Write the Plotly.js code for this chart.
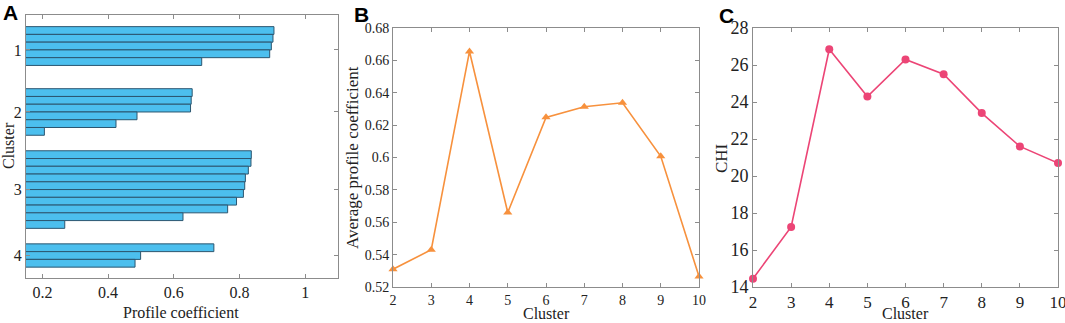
<!DOCTYPE html>
<html>
<head>
<meta charset="utf-8">
<script src="https://cdn.plot.ly/plotly-3.0.1.min.js"></script>
<style>
  html, body { margin: 0; padding: 0; background: #fff; }
  #chart { width: 1065px; height: 323px; }
</style>
</head>
<body>
<div id="chart"></div>
<script>
// panel A: profile (silhouette) coefficient of each sample, grouped by cluster
var cluster1 = [0.905, 0.902, 0.897, 0.892, 0.685, 0.10];
var cluster2 = [0.656, 0.653, 0.651, 0.488, 0.424, 0.206];
var cluster3 = [0.836, 0.835, 0.827, 0.818, 0.816, 0.812, 0.791, 0.764, 0.628, 0.268];
var cluster4 = [0.722, 0.499, 0.482];
var clusterNames = ['1', '2', '3', '4'];

// panels B and C: score per number of clusters
var clusterCounts = [2, 3, 4, 5, 6, 7, 8, 9, 10];
var avgProfile = [0.531, 0.543, 0.6655, 0.566, 0.6248, 0.6314, 0.6338, 0.6007, 0.5265];
var chi = [14.45, 17.25, 26.85, 24.3, 26.3, 25.5, 23.4, 21.6, 20.7];

var serif = 'Liberation Serif';
var axisGray = '#8c8c8c';

// stack the bars of panel A with a two-slot gap between clusters
var groups = [cluster1, cluster2, cluster3, cluster4];
var barX = [], barY = [], tickPos = [];
var pos = 2;
groups.forEach(function (g) {
  var first = pos;
  g.forEach(function (v) {
    barX.push(v);
    barY.push(pos);
    pos++;
  });
  tickPos.push((first + pos - 1) / 2);
  pos += 2;
});

var bars = {
  type: 'bar',
  orientation: 'h',
  x: barX,
  y: barY,
  width: 1,
  marker: { color: '#4cbfee', line: { color: '#2b5670', width: 1 } },
  xaxis: 'x',
  yaxis: 'y'
};

var lineB = {
  type: 'scatter',
  mode: 'lines+markers',
  x: clusterCounts,
  y: avgProfile,
  line: { color: '#f7913d', width: 1.6 },
  marker: { symbol: 'triangle-up', size: 8, color: '#f7913d' },
  xaxis: 'x2',
  yaxis: 'y2',
  cliponaxis: false
};

var lineC = {
  type: 'scatter',
  mode: 'lines+markers',
  x: clusterCounts,
  y: chi,
  line: { color: '#ec4576', width: 1.6 },
  marker: { symbol: 'circle', size: 8, color: '#ec4576' },
  xaxis: 'x3',
  yaxis: 'y3',
  cliponaxis: false
};

function f(size) {
  return { family: serif, size: size, color: '#222' };
}

function ax(extra) {
  var base = {
    showgrid: false,
    zeroline: false,
    showline: true,
    linecolor: axisGray,
    linewidth: 1,
    mirror: 'ticks',
    ticks: 'inside',
    ticklen: 4,
    tickcolor: axisGray,
    ticklabeloverflow: 'allow',
    tickfont: f(14)
  };
  for (var k in extra) base[k] = extra[k];
  return base;
}

var W = 1065, H = 323;

// axis titles placed by pixel centre, since Plotly keeps titles inside the margins
function axisTitle(text, px, py, size, vertical) {
  return {
    text: text, x: px / W, y: 1 - py / H, xref: 'paper', yref: 'paper',
    xanchor: 'center', yanchor: 'middle', showarrow: false,
    textangle: vertical ? -90 : 0, font: f(size)
  };
}

function panelLetter(text, px, py) {
  return {
    text: '<b>' + text + '</b>', x: px / W, y: 1 - py / H, xref: 'paper', yref: 'paper',
    xanchor: 'left', yanchor: 'top', showarrow: false,
    font: { family: 'Liberation Sans', size: 21, color: '#000' }
  };
}

var layout = {
  width: W,
  height: H,
  margin: { l: 0, r: 0, t: 0, b: 0 },
  paper_bgcolor: '#fff',
  plot_bgcolor: '#fff',
  font: f(14),
  showlegend: false,
  bargap: 0,
  xaxis: ax({
    domain: [26 / W, 338 / W],
    range: [0.15, 1.1],
    tickvals: [0.2, 0.4, 0.6, 0.8, 1],
    ticktext: ['0.2', '0.4', '0.6', '0.8', '1'],
    tickfont: f(16),
    anchor: 'y'
  }),
  yaxis: ax({
    domain: [1 - 278 / H, 1 - 15 / H],
    range: [33.9, 0],
    tickvals: tickPos,
    ticktext: clusterNames,
    tickfont: f(16),
    anchor: 'x'
  }),
  xaxis2: ax({
    domain: [393 / W, 699 / W],
    range: [2, 10],
    dtick: 1,
    tickfont: f(14),
    anchor: 'y2'
  }),
  yaxis2: ax({
    domain: [1 - 287 / H, 1 - 28 / H],
    range: [0.52, 0.68],
    tickvals: [0.52, 0.54, 0.56, 0.58, 0.6, 0.62, 0.64, 0.66, 0.68],
    ticktext: ['0.52', '0.54', '0.56', '0.58', '0.6', '0.62', '0.64', '0.66', '0.68'],
    tickfont: f(14),
    anchor: 'x2'
  }),
  xaxis3: ax({
    domain: [753 / W, 1058 / W],
    range: [2, 10],
    dtick: 1,
    tickfont: f(17),
    anchor: 'y3'
  }),
  yaxis3: ax({
    domain: [1 - 287 / H, 1 - 28 / H],
    range: [14, 28],
    dtick: 2,
    tickfont: f(18),
    anchor: 'x3'
  }),
  annotations: [
    axisTitle('Profile coefficient', 181, 312, 16, false),
    axisTitle('Cluster', 8, 146, 16, true),
    axisTitle('Cluster', 546, 313.5, 16, false),
    axisTitle('Average profile coefficient', 352, 158, 17, true),
    axisTitle('Cluster', 905, 313.5, 16, false),
    axisTitle('CHI', 721, 158, 17, true),
    panelLetter('A', 1, -1),
    panelLetter('B', 352, 1),
    panelLetter('C', 717, 2)
  ]
};

Plotly.newPlot('chart', [bars, lineB, lineC], layout, { displayModeBar: false, staticPlot: true });
</script>
</body>
</html>
